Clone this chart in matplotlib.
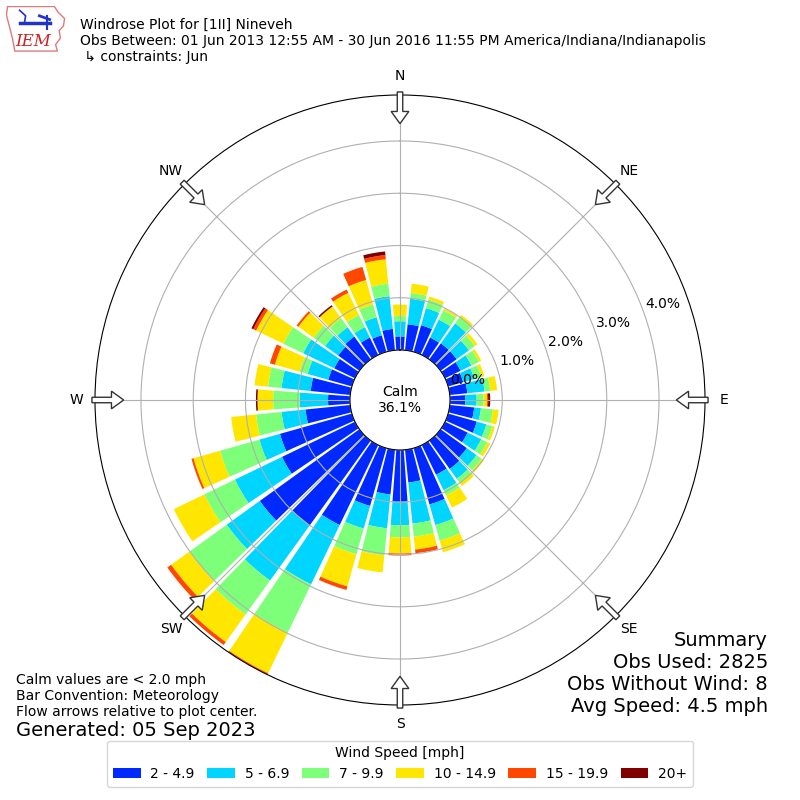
import numpy as np
import matplotlib
matplotlib.use("Agg")
import matplotlib.pyplot as plt
from matplotlib.patches import Rectangle, FancyArrow, Polygon

# direction bins (degrees, meteorological "from")
directions = np.arange(0, 360, 10)
speed_bins = ["2 - 4.9", "5 - 6.9", "7 - 9.9", "10 - 14.9", "15 - 19.9", "20+"]

# percent of observations per direction, one list per speed bin
spd_2_5 = [0.26, 0.50, 0.53, 0.37, 0.38, 0.38, 0.33, 0.30, 0.34, 0.29,
           0.47, 0.57, 0.48, 0.62, 0.67, 0.63, 1.12, 0.63, 0.99, 0.86,
           1.15, 1.70, 2.00, 2.35, 1.55, 1.43, 0.86, 0.42, 0.76, 0.47,
           0.44, 0.50, 0.54, 0.37, 0.33, 0.41]
spd_5_7 = [0.29, 0.49, 0.34, 0.38, 0.47, 0.29, 0.23, 0.22, 0.33, 0.22,
           0.13, 0.19, 0.29, 0.23, 0.23, 0.33, 0.41, 0.79, 0.45, 0.65,
           0.45, 1.26, 1.30, 0.78, 1.00, 0.41, 0.46, 0.54, 0.56, 0.41,
           0.66, 0.31, 0.22, 0.22, 0.36, 0.63]
spd_7_10 = [0.10, 0.11, 0.17, 0.20, 0.15, 0.14, 0.16, 0.14, 0.11, 0.13,
            0.23, 0.12, 0.13, 0.12, 0.10, 0.11, 0.31, 0.25, 0.23, 0.52,
            0.51, 1.03, 0.80, 0.88, 0.65, 0.78, 0.49, 0.51, 0.26, 0.16,
            0.42, 0.27, 0.21, 0.26, 0.25, 0.24]
spd_10_15 = [0.22, 0.18, 0.06, 0.04, 0.05, 0.06, 0.05, 0.06, 0.13, 0.07,
             0.11, 0.05, 0.06, 0.05, 0.07, 0.26, 0.23, 0.25, 0.31, 0.33,
             0.64, 0.86, 0.65, 0.43, 0.65, 0.53, 0.48, 0.30, 0.26, 0.49,
             0.58, 0.36, 0.28, 0.47, 0.49, 0.47]
spd_15_20 = [0, 0, 0, 0, 0, 0, 0, 0, 0, 0.02,
             0, 0, 0, 0, 0, 0, 0, 0.07, 0.04, 0,
             0.07, 0.03, 0.07, 0.09, 0, 0.04, 0, 0, 0, 0.10,
             0.06, 0.04, 0, 0.07, 0.26, 0.08]
spd_20 = [0, 0, 0, 0, 0, 0, 0, 0, 0, 0.04,
          0, 0, 0, 0, 0, 0, 0, 0, 0, 0,
          0, 0, 0, 0, 0, 0, 0, 0.03, 0, 0,
          0.04, 0, 0.03, 0, 0, 0.07]

calm_pct = 36.1
ring_values = [0, 1, 2, 3, 4]
compass = ["N", "NE", "E", "SE", "S", "SW", "W", "NW"]
summary_lines = ["Summary", "Obs Used: 2825", "Obs Without Wind: 8",
                 "Avg Speed: 4.5 mph"]

series = [spd_2_5, spd_5_7, spd_7_10, spd_10_15, spd_15_20, spd_20]
cmap = plt.get_cmap("jet")
colors = [cmap(i / 6.0) for i in range(1, 7)]

fig = plt.figure(figsize=(8, 8), dpi=100)
ax = fig.add_axes([0.11875, 0.11875, 0.7625, 0.7625], projection="polar")
ax.set_theta_zero_location("N")
ax.set_theta_direction(-1)

theta = np.radians(directions)
bottom = np.zeros(len(directions))
for vals, c, lab in zip(series, colors, speed_bins):
    vals = np.array(vals)
    ax.bar(theta, vals, width=np.radians(8.5), bottom=bottom, color=c,
           linewidth=0, label=lab)
    bottom = bottom + vals

ax.set_rorigin(-0.957)
ax.set_ylim(0, bottom.max())
ax.set_xticks(np.radians(np.arange(0, 360, 45)))
ax.set_xticklabels([])
ax.set_yticks(ring_values)
ax.set_yticklabels([])
ax.grid(True, color="#b0b0b0", lw=0.8)

for r in ring_values:
    ax.text(np.radians(68.5), r + 0.08, "%.1f%%" % r, ha="left", va="center",
            fontsize=10, zorder=6)

ax.text(0.5, 0.5, "Calm\n%.1f%%" % calm_pct, transform=ax.transAxes,
        ha="center", va="center", fontsize=10)

# compass labels + flow arrows pointing to center
for lab, ang in zip(compass, range(0, 360, 45)):
    s, c = np.sin(np.radians(ang)), np.cos(np.radians(ang))
    ax.text(0.5 + 0.531 * s, 0.5 + 0.531 * c, lab, transform=ax.transAxes,
            ha="center", va="center", fontsize=10)
    r0, r1 = 0.505, 0.453
    arr = FancyArrow(0.5 + r0 * s, 0.5 + r0 * c, (r1 - r0) * s, (r1 - r0) * c,
                     width=0.009, head_width=0.029, head_length=0.02,
                     length_includes_head=True, transform=ax.transAxes,
                     fc="white", ec="#333333", lw=1, clip_on=False, zorder=7)
    ax.add_patch(arr)

handles = [Rectangle((0, 0), 1, 1, fc=c) for c in colors]
fig.legend(handles, speed_bins, loc="lower center", bbox_to_anchor=(0.5, 0.008),
           ncol=6, title="Wind Speed [mph]", fontsize=10, title_fontsize=10,
           columnspacing=0.9, handletextpad=0.7)

fig.text(0.1, 0.978, "Windrose Plot for [1II] Nineveh\n"
         "Obs Between: 01 Jun 2013 12:55 AM - 30 Jun 2016 11:55 PM "
         "America/Indiana/Indianapolis\n \u21b3 constraints: Jun",
         va="top", ha="left", fontsize=10)

fig.text(0.02, 0.13, "Calm values are < 2.0 mph\nBar Convention: Meteorology\n"
         "Flow arrows relative to plot center.", va="center", ha="left",
         fontsize=10)
fig.text(0.02, 0.0875, "Generated: 05 Sep 2023", va="center", ha="left",
         fontsize=14)
for i, line in enumerate(summary_lines):
    fig.text(0.96, 0.2 - i * 0.0275, line, va="center", ha="right", fontsize=14)

# rough IEM logo
lax = fig.add_axes([0.008, 0.935, 0.075, 0.058])
lax.set_xlim(0, 1)
lax.set_ylim(0, 1)
lax.axis("off")
iowa = [(0.02, 0.98), (0.80, 0.98), (0.86, 0.86), (0.97, 0.72), (0.95, 0.56),
        (0.88, 0.46), (0.90, 0.30), (0.82, 0.16), (0.85, 0.02), (0.14, 0.02),
        (0.10, 0.30), (0.05, 0.55), (0.0, 0.80)]
lax.add_patch(Polygon(iowa, closed=True, fc="white", ec="#e07a7a", lw=1))
lax.plot([0.22, 0.72], [0.62, 0.62], color="#2233cc", lw=2.5)
lax.plot([0.68, 0.68], [0.50, 0.78], color="#2233cc", lw=1.5)
lax.plot([0.22, 0.32, 0.30], [0.90, 0.78, 0.62], color="#2233cc", lw=1.2)
lax.plot([0.55, 0.72], [0.78, 0.70], color="#2233cc", lw=2)
lax.text(0.14, 0.22, "IEM", color="#cc2222", fontsize=12, style="italic",
         family="DejaVu Serif", va="center")

fig.savefig("out.png", dpi=100)
